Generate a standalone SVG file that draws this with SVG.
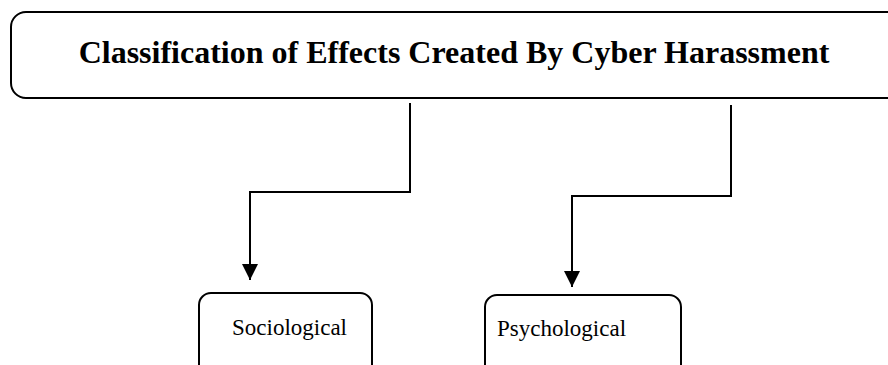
<svg xmlns="http://www.w3.org/2000/svg" width="888" height="365" viewBox="0 0 888 365">
<defs>
<style>
.box{fill:#fff;stroke:#000;stroke-width:2}
.conn{fill:none;stroke:#000;stroke-width:2}
.title{font-family:"Liberation Serif","Times New Roman",serif;font-weight:bold;font-size:32px;fill:#000}
.lbl{font-family:"Liberation Serif","Times New Roman",serif;font-size:23px;fill:#000}
</style>
<marker id="ah" markerWidth="16" markerHeight="16" viewBox="0 0 16 16" refX="16" refY="8" orient="auto" markerUnits="userSpaceOnUse">
<path d="M0,0 L16,8 L0,16 Z" fill="#000"/>
</marker>
</defs>
<rect width="888" height="365" fill="#fff"/>
<g id="root">
<rect class="box" x="11" y="12" width="900" height="86" rx="15"/>
<text class="title" x="454" y="63" text-anchor="middle">Classification of Effects Created By Cyber Harassment</text>
</g>
<g id="sociological">
<rect class="box" x="199" y="293" width="173" height="100" rx="12"/>
<text class="lbl" x="232" y="335">Sociological</text>
</g>
<g id="psychological">
<rect class="box" x="485" y="295" width="196" height="100" rx="12"/>
<text class="lbl" x="497" y="336">Psychological</text>
</g>
<g id="connectors">
<path class="conn" d="M410,103 V192 H250 V280" marker-end="url(#ah)"/>
<path class="conn" d="M731,105 V196 H572 V287" marker-end="url(#ah)"/>
</g>
</svg>
